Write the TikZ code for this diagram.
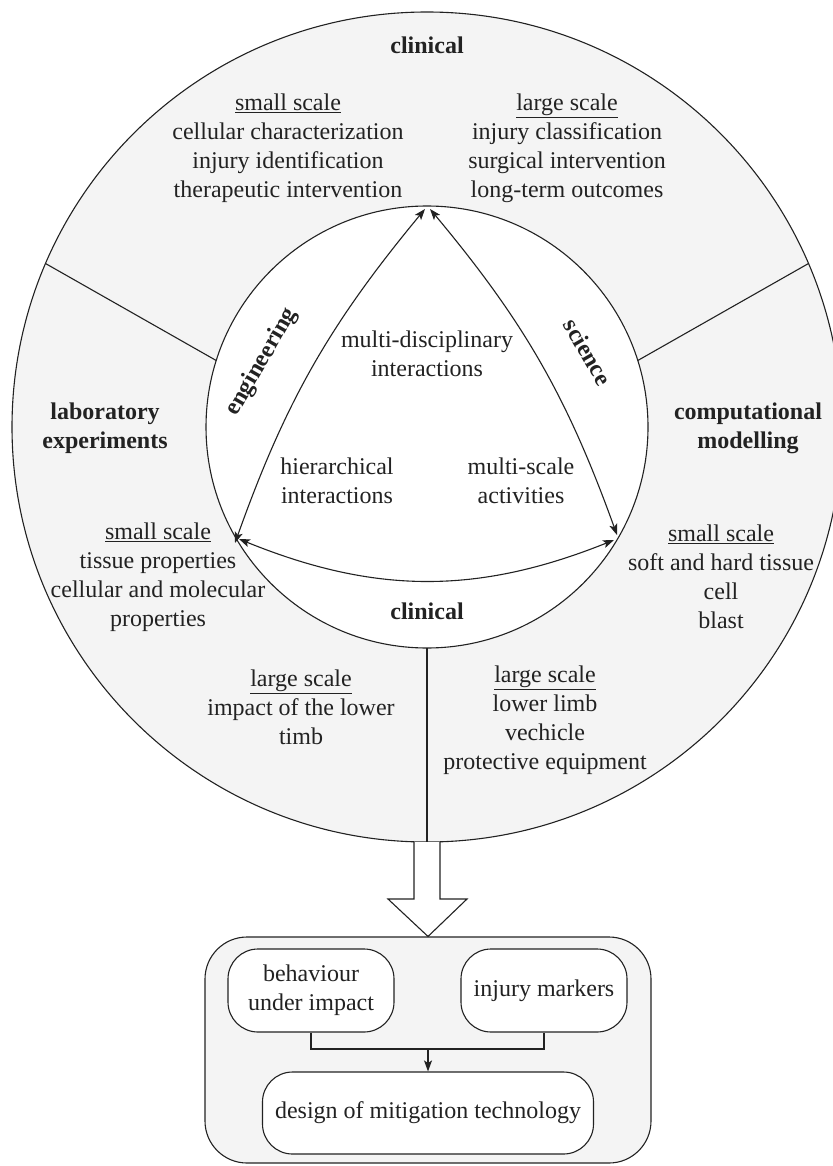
\documentclass[tikz,border=0pt]{standalone}
\usepackage{fontspec}
\setmainfont{Liberation Serif}
\usetikzlibrary{arrows.meta,calc}
\definecolor{panelgray}{RGB}{244,244,244}
\definecolor{ink}{RGB}{34,34,34}
\begin{document}
\begin{tikzpicture}[x=1pt,y=-1pt,line width=1.1pt,
  every node/.style={font=\fontsize{24}{29}\selectfont, text=ink, align=center, inner sep=0pt},
  hdr/.style={font=\fontsize{24}{29}\selectfont\bfseries},
  biarrow/.style={draw=ink, {Stealth[length=11pt,width=8pt,inset=2.5pt]}-{Stealth[length=11pt,width=8pt,inset=2.5pt]}},
  onearrow/.style={draw=ink, -{Stealth[length=11pt,width=8pt,inset=2.5pt]}},
  roundbox/.style={draw=ink, fill=white, rounded corners=30pt},
  panelbox/.style={draw=ink, fill=panelgray, rounded corners=42pt}]
\useasboundingbox (0,0) rectangle (832,1166);
% rings
\coordinate (C) at (427,427);
\draw[draw=ink, fill=panelgray] (C) circle[radius=415pt];
\draw[draw=ink, fill=white] (C) circle[radius=221pt];
% dividers
\coordinate (oL) at (45.5,263.5);
\coordinate (iL) at (216.2,360.5);
\coordinate (oR) at (808.5,263.5);
\coordinate (iR) at (637.8,360.5);
\coordinate (iB) at (427,648);
\coordinate (oB) at (427,842);
\draw[ink] (oL) -- (iL);
\draw[ink] (oR) -- (iR);
\draw[ink] (iB) -- (oB);
% triangle of arrows
\coordinate (T1) at (425,209);
\coordinate (T2) at (430,209);
\coordinate (L1) at (235,543);
\coordinate (L2) at (239,539);
\coordinate (R1) at (617,535);
\coordinate (R2) at (614,540);
\draw[biarrow] (L1) to[bend left=10] (T1);
\draw[biarrow] (R1) to[bend right=10] (T2);
\draw[biarrow] (L2) to[bend right=22] (R2);
% texts
\node[hdr] (clinTop) at (427,45) {clinical};
\node (tl) at (288,148) {\underline{small scale}\\cellular characterization\\injury identification\\therapeutic intervention};
\node (tr) at (567,148) {\underline{large scale}\\injury classification\\surgical intervention\\long-term outcomes};
\node (md) at (427,354) {multi-disciplinary\\interactions};
\node (hi) at (337,481) {hierarchical\\interactions};
\node (ms) at (521,481) {multi-scale\\activities};
\node[hdr] (lab) at (105,428) {laboratory\\experiments};
\node[hdr] (comp) at (748,428) {computational\\modelling};
\node (ls) at (158,577) {\underline{small scale}\\tissue properties\\cellular and molecular\\properties};
\node (rs) at (721,577) {\underline{small scale}\\soft and hard tissue\\cell\\blast};
\node[hdr] (clinIn) at (427,611) {clinical};
\node (ll) at (301,707) {\underline{large scale}\\impact of the lower\\timb};
\node (rl) at (545,720) {\underline{large scale}\\lower limb\\vechicle\\protective equipment};
\node[hdr, rotate=60] (eng) at (262,362) {engineering};
\node[hdr, rotate=-60] (sci) at (588,352) {science};
% bottom panel
\node[panelbox, minimum width=446pt, minimum height=226pt] (panel) at (428,1050) {};
\draw[draw=ink, fill=white] (414,842) -- (414,899) -- (388,899) -- (panel.north) -- (467,899) -- (440,899) -- (440,842);
\node[roundbox, minimum width=166pt, minimum height=83pt] (b1) at (311,990.5) {behaviour\\under impact};
\node[roundbox, minimum width=166pt, minimum height=83pt] (b2) at (544,990.5) {injury markers};
\node[roundbox, minimum width=331pt, minimum height=82pt] (b3) at (428,1113) {design of mitigation technology};
\coordinate (J) at (428,1049);
\draw[ink] (b1.south) |- (J) -| (b2.south);
\draw[onearrow] (J) -- (b3.north);
\end{tikzpicture}
\end{document}
